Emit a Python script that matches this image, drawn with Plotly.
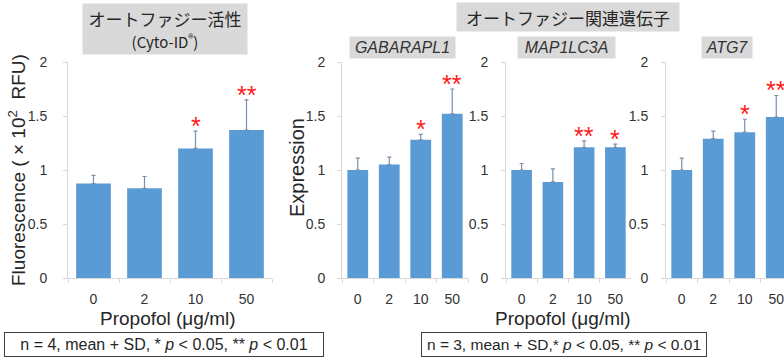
import plotly.graph_objects as go

# Propofol doses (µg/ml)
doses = ["0", "2", "10", "50"]

# Autophagy activity (Cyto-ID, x10^2 RFU), n = 4
cyto_mean = [0.875, 0.83, 1.20, 1.37]
cyto_sd = [0.075, 0.11, 0.16, 0.28]
cyto_sig = ["", "", "*", "**"]

# Autophagy-related gene expression, n = 3
gabarapl1_mean = [1.00, 1.05, 1.28, 1.52]
gabarapl1_sd = [0.11, 0.07, 0.05, 0.23]
gabarapl1_sig = ["", "", "*", "**"]

map1lc3a_mean = [1.00, 0.89, 1.21, 1.21]
map1lc3a_sd = [0.06, 0.12, 0.06, 0.03]
map1lc3a_sig = ["", "", "**", "*"]

atg7_mean = [1.00, 1.29, 1.35, 1.49]
atg7_sd = [0.11, 0.07, 0.12, 0.20]
atg7_sig = ["", "", "*", "**"]

y_ticks = [0, 0.5, 1, 1.5, 2]
y_ticktext = ["0", "0.5", "1", "1.5", "2"]

W, H = 784, 358
BAR = "#5B9BD5"
AXIS = "#D9D9D9"
TICKTXT = "#333333"
TXT = "#262626"
BOXBG = "#D9D9D9"
RED = "#FF1A1A"
JP = "Noto Sans CJK JP"
SANS = "Liberation Sans, Arial, sans-serif"


def px_x(p):
    return p / W


def px_y(p):
    return 1 - p / H


# panel layout: (x start px, x end px, bar width, x range end, y label standoff)
panels = [
    (68, 272, 0.68, 3.5, 13, cyto_mean, cyto_sd, cyto_sig),
    (342, 468, 0.66, 3.5, 9, gabarapl1_mean, gabarapl1_sd, gabarapl1_sig),
    (506, 631, 0.66, 3.5, 10, map1lc3a_mean, map1lc3a_sd, map1lc3a_sig),
    (666, 784, 0.66, -0.5 + (784 - 666) / 31.5, 10, atg7_mean, atg7_sd, atg7_sig),
]

y_dom = [px_y(278), px_y(62)]

fig = go.Figure()
layout_axes = {}
annotations = []

for i, (x0, x1, bw, xr, ystand, mean, sd, sig) in enumerate(panels, start=1):
    suffix = "" if i == 1 else str(i)
    fig.add_trace(go.Bar(
        x=doses, y=mean,
        width=bw,
        marker=dict(color=BAR, line=dict(width=0)),
        error_y=dict(type="data", symmetric=False, array=sd,
                     arrayminus=[0] * len(sd),
                     color="#7A8FA8", thickness=1.2, width=2),
        xaxis="x" + suffix, yaxis="y" + suffix,
        showlegend=False,
    ))
    layout_axes["xaxis" + suffix] = dict(
        domain=[px_x(x0), px_x(x1)], anchor="y" + suffix,
        type="category", range=[-0.5, xr], automargin=False,
        showline=True, linecolor=AXIS, linewidth=1,
        ticks="outside", tickson="boundaries", ticklen=4, tickcolor=AXIS,
        ticklabelstandoff=8,
        tickfont=dict(family=SANS, size=14, color=TICKTXT),
        showgrid=False, zeroline=False, fixedrange=True,
    )
    layout_axes["yaxis" + suffix] = dict(
        domain=y_dom, anchor="x" + suffix,
        range=[0, 2], tickvals=y_ticks, ticktext=y_ticktext, automargin=False,
        showline=True, linecolor=AXIS, linewidth=1,
        ticks="outside", ticklen=4, tickcolor=AXIS,
        ticklabelstandoff=ystand,
        tickfont=dict(family=SANS, size=14, color=TICKTXT),
        showgrid=False, zeroline=False, fixedrange=True,
    )
    # significance marks sit just above each error bar (x given as category index)
    for j, (m, s, mark) in enumerate(zip(mean, sd, sig)):
        if mark:
            annotations.append(dict(
                x=j, y=m + s, xref="x" + suffix, yref="y" + suffix,
                text=mark, showarrow=False, yanchor="bottom", yshift=-11,
                font=dict(family=SANS, size=25, color=RED),
            ))


def paper_text(text, cx, cy, size, family=SANS, color=TXT, **kw):
    d = dict(text=text, x=px_x(cx), y=px_y(cy), xref="paper", yref="paper",
             xanchor="center", yanchor="middle", showarrow=False,
             font=dict(family=family, size=size, color=color))
    d.update(kw)
    return d


# panel titles in grey boxes
annotations.append(paper_text(
    "オートファジー活性<br><span style='font-size:15px'>(Cyto-ID<sup>®</sup>)</span>",
    165, 29, 17, family=JP, bgcolor=BOXBG, width=160, height=46, borderpad=2))
annotations.append(paper_text(
    "オートファジー関連遺伝子", 568, 17, 17, family=JP,
    bgcolor=BOXBG, width=218, height=24, borderpad=2))
for name, cx, w in [("GABARAPL1", 402, 101), ("MAP1LC3A", 566, 93), ("ATG7", 727, 46)]:
    annotations.append(paper_text(
        "<i>" + name + "</i>", cx, 48, 16, bgcolor=BOXBG, width=w, height=17,
        borderpad=2, color="#333333"))

# axis titles
annotations.append(paper_text("Fluorescence ( × 10<sup>2</sup>  RFU)", 17, 170, 19,
                              textangle=-90))
annotations.append(paper_text("Expression", 297, 168, 20, textangle=-90))
annotations.append(paper_text("Propofol (μg/ml)", 168, 318, 19))
annotations.append(paper_text("Propofol (μg/ml)", 563, 318, 19))

# statistics footnotes
annotations.append(paper_text(
    "n = 4, mean + SD, * <i>p</i> < 0.05, ** <i>p</i> < 0.01", 164, 344.5, 16,
    bordercolor="#404040", borderwidth=1, borderpad=2, width=314, height=19,
    bgcolor="white"))
annotations.append(paper_text(
    "n = 3, mean + SD,* <i>p</i> < 0.05, ** <i>p</i> < 0.01", 564, 344.5, 15.5,
    bordercolor="#404040", borderwidth=1, borderpad=2, width=280, height=19,
    bgcolor="white"))

fig.update_layout(
    width=W, height=H,
    margin=dict(l=0, r=0, t=0, b=0, autoexpand=False),
    paper_bgcolor="white", plot_bgcolor="white",
    bargap=0.3,
    annotations=annotations,
    **layout_axes,
)

fig.write_html("out.html", config={"displayModeBar": False})
